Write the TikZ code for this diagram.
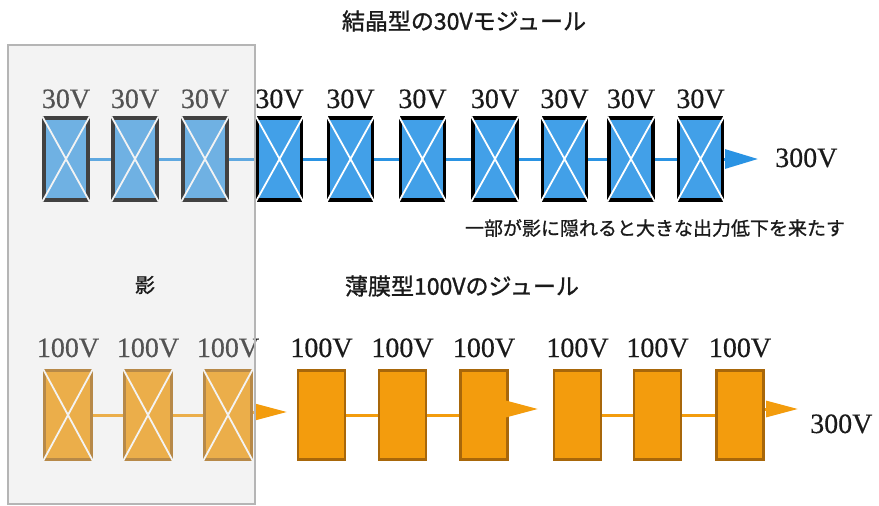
\documentclass[tikz,border=0pt]{standalone}
\usepackage{fontspec}
\setmainfont{Liberation Serif}
\newfontfamily\vfont[FakeBold=0.4]{Liberation Serif}
\newfontfamily\jp[FakeBold=1.2]{Noto Sans CJK JP}
\newfontfamily\jpn[FakeBold=0.9]{Noto Sans CJK JP}
\usetikzlibrary{arrows.meta}
\definecolor{cblue}{HTML}{42A0E8}
\definecolor{wblue}{HTML}{2A93E3}
\definecolor{corange}{HTML}{F39C0D}
\definecolor{cbrown}{HTML}{A8670A}
\definecolor{shadowgray}{HTML}{DADADA}
\definecolor{shadowedge}{HTML}{B5B5B5}
\definecolor{txt}{HTML}{1A1A1A}
\tikzset{
  topbox/.style={fill=cblue, draw=black, line width=3.4pt, minimum width=44pt, minimum height=82pt, inner sep=0pt},
  botbox/.style={fill=corange, draw=cbrown, line width=2.6pt, minimum width=47pt, minimum height=89pt, inner sep=0pt},
  xline/.style={draw=white, line width=1.8pt},
  vlabel/.style={anchor=base, inner sep=0pt, text=txt, font=\vfont\fontsize{28}{30}\selectfont},
  bwire/.style={draw=wblue, line width=3pt},
  owire/.style={draw=corange, line width=3pt},
  btip/.style={-{Triangle[length=33pt,width=19pt]}},
  otip/.style={-{Triangle[length=32pt,width=16pt]}},
  jptitle/.style={inner sep=0pt, text=txt, font=\jp\fontsize{23}{26}\selectfont},
  jpnote/.style={inner sep=0pt, text=txt, font=\jpn\fontsize{19}{22}\selectfont},
  shadowbox/.style={draw=shadowedge, line width=1.5pt, fill=shadowgray, fill opacity=0.3, minimum width=247pt, minimum height=459pt, inner sep=0pt}
}
\begin{document}
\begin{tikzpicture}[x=1pt, y=-1pt]
\useasboundingbox (0,0) rectangle (879,506);
\fill[white] (0,0) rectangle (879,506);

% titles
\node[jptitle] (title1) at (464,21) {結晶型の30Vモジュール};
\node[jptitle] (title2) at (462,286) {薄膜型100Vのジュール};
\node[jpnote] (note) at (655,228) {一部が影に隠れると大きな出力低下を来たす};

% top row: crystalline 30V modules
\foreach \i/\x in {1/66,2/135,3/205,4/279.5,5/350.5,6/422.5,7/495,8/564.5,9/631,10/700.5} {
  \node[topbox] (t\i) at (\x,159) {};
  \draw[xline] (t\i.north west) -- (t\i.south east) (t\i.north east) -- (t\i.south west);
  \node[vlabel] (tl\i) at (\x,108) {30V};
}
\foreach \a/\b in {1/2,2/3,3/4,4/5,5/6,6/7,7/8,8/9,9/10} {
  \draw[bwire] (t\a.east) -- (t\b.west);
}
\coordinate (tend) at (758,159);
\draw[bwire, btip] (t10.east) -- (tend);
\node[vlabel, anchor=base west] (tout) at (775,167) {300V};

% bottom row: thin-film 100V modules
\foreach \i/\x in {1/68,2/148,3/228,4/321.5,5/402.5,6/484,7/577.5,8/657.5,9/740} {
  \node[botbox] (b\i) at (\x,415) {};
  \node[vlabel] (bl\i) at (\x,357) {100V};
}
\foreach \i in {1,2,3} {
  \draw[xline] (b\i.north west) -- (b\i.south east) (b\i.north east) -- (b\i.south west);
}
\foreach \a/\b in {1/2,2/3,4/5,5/6,7/8,8/9} {
  \draw[owire] (b\a.east) -- (b\b.west);
}
\coordinate (e1) at (287,412);
\coordinate (e2) at (538,409);
\coordinate (e3) at (798,409);
\draw[owire, otip] (b3.east |- e1) -- (e1);
\draw[owire, otip] (b6.east |- e2) -- (e2);
\draw[owire, otip] (b9.east |- e3) -- (e3);
\node[vlabel, anchor=base west] (bout) at (810,433) {300V};

% shadow
\node[shadowbox] (shadow) at (131.5,274.5) {};
\node[jpnote, font=\jp\fontsize{20}{22}\selectfont] (kage) at (145,285) {影};
\end{tikzpicture}
\end{document}
